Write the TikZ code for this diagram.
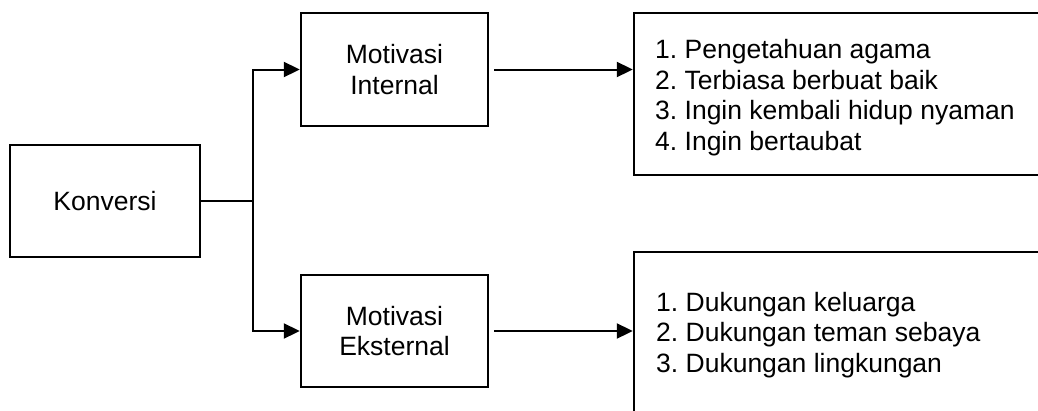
\documentclass[tikz,border=0pt]{standalone}
\usepackage{fontspec}
\setmainfont{Liberation Sans}
\usetikzlibrary{arrows.meta}
\frenchspacing
\begin{document}
\begin{tikzpicture}[x=1pt,y=-1pt,
  box/.style={draw, line width=2.4pt, inner sep=0pt, font=\fontsize{26.5}{30.5}\selectfont, align=center},
  conn/.style={line width=2pt},
  arr/.style={conn, -{Triangle[length=16pt,width=15pt]}},
  listtext/.style={inner sep=0pt, anchor=west, align=left, font=\fontsize{26.5}{30.5}\selectfont}]
\useasboundingbox (0,0) rectangle (1038,410);
\clip (0,0) rectangle (1038,410);
\node[box, minimum width=190pt, minimum height=112pt] (konv) at (105,201) {Konversi};
\node[box, minimum width=187pt, minimum height=113pt] (mi) at (394.5,69.5) {Motivasi\\Internal};
\node[box, minimum width=187pt, minimum height=112pt] (me) at (394.5,331) {Motivasi\\Eksternal};
\node[box, minimum width=426pt, minimum height=162pt] (l1) at (847,94) {};
\node[box, minimum width=426pt, minimum height=188pt] (l2) at (847,346) {};
\node[listtext] (t1) at (655,97.6) {\frenchspacing 1. Pengetahuan agama\\2. Terbiasa berbuat baik\\3. Ingin kembali hidup nyaman\\4. Ingin bertaubat};
\node[listtext] (t2) at (656,335) {\frenchspacing 1. Dukungan keluarga\\2. Dukungan teman sebaya\\3. Dukungan lingkungan};
\coordinate (j) at (253,201);
\draw[conn] (konv.east) -- (j);
\draw[arr] (j) |- (mi.west);
\draw[arr] (j) |- (me.west);
\draw[arr] ([xshift=5pt]mi.east) -- (mi.east -| l1.west);
\draw[arr] ([xshift=5pt]me.east) -- (me.east -| l2.west);
\end{tikzpicture}
\end{document}
